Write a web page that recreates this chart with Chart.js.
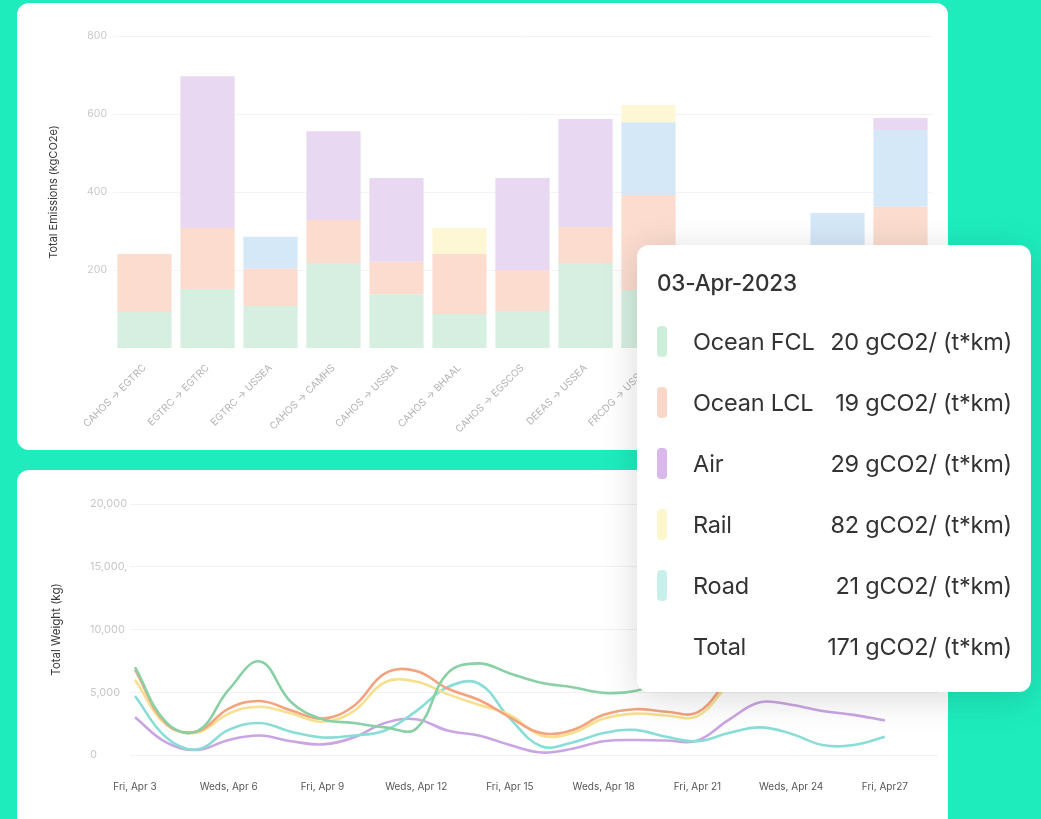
<!DOCTYPE html>
<html>
<head>
<meta charset="utf-8">
<script src="https://cdn.jsdelivr.net/npm/chart.js@4.4.1/dist/chart.umd.min.js"></script>
<style>
  html, body { margin: 0; padding: 0; }
  body { width: 1041px; height: 819px; background: #1eecbd; position: relative; overflow: hidden; font-family: Inter, "Noto Sans", sans-serif; }
  .card { position: absolute; background: #fff; border-radius: 12px; overflow: hidden; }
  #topCard { left: 17px; top: 3px; width: 931px; height: 447px; }
  #bottomCard { left: 17px; top: 470px; width: 931px; height: 370px; }
  .card canvas { display: block; }
  #tip { position: absolute; left: 637px; top: 245px; width: 394px; height: 447px; background: #fff; border-radius: 12px; box-shadow: 0 6px 36px rgba(0,0,0,0.15); color: #333; }
  #tip .title { position: absolute; left: 20px; top: 22px; font-size: 22.5px; font-weight: 500; line-height: 32px; letter-spacing: -0.2px; }
  #tip .row { position: absolute; left: 0; right: 0; height: 40px; line-height: 40px; font-size: 23.5px; letter-spacing: -0.2px; }
  #tip .sw { position: absolute; left: 20px; top: 4px; width: 10px; height: 31px; border-radius: 4px; }
  #tip .lab { position: absolute; left: 56px; }
  #tip .val { position: absolute; right: 19px; }
</style>
</head>
<body>
<div class="card" id="topCard"><canvas id="emissionsChart"></canvas></div>
<div class="card" id="bottomCard"><canvas id="weightChart"></canvas></div>
<div id="tip"></div>

<script>
// emissions per route (kgCO2e), stacked bottom -> top
var routes = ['CAHOS → EGTRC', 'EGTRC → EGTRC', 'EGTRC → USSEA', 'CAHOS → CAMHS', 'CAHOS → USSEA', 'CAHOS → BHAAL',
  'CAHOS → EGSCOS', 'DEEAS → USSEA', 'FRCDG → USSEA', 'CNSHA → USLAX', 'DEHAM → USNYC', 'NLRTM → USSEA', 'CAHOS → DEHAM'];
var oceanFcl = [92, 151, 108, 218, 138, 87, 95, 218, 149, 100, 120, 110, 150];
var oceanLcl = [149, 157, 95, 110, 83, 154, 105, 92, 243, 90, 60, 90, 212];
var road = [0, 0, 82, 0, 0, 0, 0, 0, 187, 0, 0, 146, 197];
var air = [0, 389, 0, 228, 215, 0, 236, 277, 0, 0, 0, 0, 31];
var rail = [0, 0, 0, 0, 0, 67, 0, 0, 44, 0, 0, 0, 0];
var emissionTicks = [200, 400, 600, 800];

// weight per day (kg), Apr 3 .. Apr 27
var days = [3, 4, 5, 6, 7, 8, 9, 10, 11, 12, 13, 14, 15, 16, 17, 18, 19, 20, 21, 22, 23, 24, 25, 26, 27];
var weightFcl = [7000, 2600, 1900, 5200, 7450, 4200, 2850, 2550, 2200, 2100, 6500, 7300, 6500, 5750, 5400, 4950, 5100, 6000, 7000, 7500, 7000, 6500, 6800, 7200, 7000];
var weightLcl = [6800, 2500, 1900, 3700, 4300, 3550, 2900, 3900, 6500, 6700, 5300, 4400, 3000, 1750, 2000, 3200, 3650, 3450, 3400, 6000, 8000, 9000, 8500, 8000, 8500];
var weightRail = [6000, 2400, 1800, 3300, 3850, 3300, 2650, 3500, 5800, 5850, 4850, 4000, 3200, 1550, 1750, 2900, 3300, 3150, 3100, 5600, 7500, 8500, 8000, 7500, 8000];
var weightRoad = [4700, 1400, 450, 2000, 2550, 1850, 1400, 1550, 1950, 3500, 5400, 5700, 2900, 700, 1000, 1750, 2000, 1450, 1100, 1750, 2200, 1700, 800, 800, 1450];
var weightAir = [3000, 1000, 400, 1200, 1550, 1100, 850, 1400, 2550, 2850, 1950, 1550, 800, 200, 500, 1100, 1200, 1150, 1150, 2800, 4200, 4000, 3500, 3200, 2750];
var dayTicks = [3, 6, 9, 12, 15, 18, 21, 24, 27];
var dayTickLabels = ['Fri, Apr 3', 'Weds, Apr 6', 'Fri, Apr 9', 'Weds, Apr 12', 'Fri, Apr 15', 'Weds, Apr 18', 'Fri, Apr 21', 'Weds, Apr 24', 'Fri, Apr27'];
var weightTicks = [0, 5000, 10000, 15000, 20000];
var weightTickLabels = ['0', '5,000', '10,000', '15,000,', '20,000'];

// tooltip card
var tipDate = '03-Apr-2023';
var tipModes = ['Ocean FCL', 'Ocean LCL', 'Air', 'Rail', 'Road', 'Total'];
var tipValues = [20, 19, 29, 82, 21, 171];
var tipColors = ['#cdeedb', '#f9d7c9', '#d9b8ec', '#fbf6cc', '#c8f0ea', null];
var tipUnit = 'gCO2/ (t*km)';

Chart.defaults.font.family = 'Inter, "Noto Sans", sans-serif';
Chart.defaults.animation = false;

// emissions chart
var ctx = document.getElementById('emissionsChart').getContext('2d');
var emissionsChart = new Chart(ctx, {
  type: 'bar',
  data: {
    labels: routes,
    datasets: [
      { label: 'Ocean FCL', data: oceanFcl, backgroundColor: '#d6efe1' },
      { label: 'Ocean LCL', data: oceanLcl, backgroundColor: '#fbdccf' },
      { label: 'Road', data: road, backgroundColor: '#d5e8f8' },
      { label: 'Air', data: air, backgroundColor: '#e8d8f1' },
      { label: 'Rail', data: rail, backgroundColor: '#fdf7d5' }
    ]
  },
  options: {
    responsive: true,
    maintainAspectRatio: false,
    layout: { padding: { left: 26, right: 16, top: 33, bottom: 10 } },
    plugins: {
      legend: { display: false },
      tooltip: { enabled: false }
    },
    datasets: {
      bar: { categoryPercentage: 0.86, barPercentage: 1, borderWidth: 0 }
    },
    scales: {
      x: {
        stacked: true,
        grid: { display: false },
        border: { display: false },
        ticks: {
          autoSkip: false,
          maxRotation: 45,
          minRotation: 45,
          padding: 6,
          color: '#b3b3b3',
          font: { size: 10 }
        },
        afterFit: function (scale) { scale.height = 92; }
      },
      y: {
        stacked: true,
        min: 0,
        max: 800,
        grid: { color: '#f3f3f3', drawTicks: false },
        border: { display: false },
        ticks: { padding: 6, color: '#c8c8c8', font: { size: 10.5 } },
        afterBuildTicks: function (scale) {
          scale.ticks = emissionTicks.map(function (v) { return { value: v }; });
        },
        afterFit: function (scale) { scale.width = 70; },
        title: {
          display: true,
          text: 'Total Emissions (kgCO2e)',
          color: '#3a3a3a',
          font: { size: 11 }
        }
      }
    }
  }
});

// weight chart
function points(values) {
  return values.map(function (v, i) { return { x: days[i], y: v }; });
}
var lineStyle = { borderWidth: 2.6, pointRadius: 0, tension: 0.4, fill: false };
var ctx2 = document.getElementById('weightChart').getContext('2d');
var weightChart = new Chart(ctx2, {
  type: 'line',
  data: {
    datasets: [
      Object.assign({ label: 'Ocean FCL', data: points(weightFcl), borderColor: '#8ad0a5' }, lineStyle),
      Object.assign({ label: 'Ocean LCL', data: points(weightLcl), borderColor: '#f3a37f' }, lineStyle),
      Object.assign({ label: 'Rail', data: points(weightRail), borderColor: '#f6e08f' }, lineStyle),
      Object.assign({ label: 'Road', data: points(weightRoad), borderColor: '#88ddd6' }, lineStyle),
      Object.assign({ label: 'Air', data: points(weightAir), borderColor: '#caa5e3' }, lineStyle)
    ]
  },
  options: {
    responsive: true,
    maintainAspectRatio: false,
    layout: { padding: { left: 73, right: 10, top: 34, bottom: 10 } },
    plugins: {
      legend: { display: false },
      tooltip: { enabled: false }
    },
    scales: {
      x: {
        type: 'linear',
        min: 2.84,
        max: 28.7,
        grid: { display: false },
        border: { display: false },
        ticks: {
          padding: 18,
          color: '#555',
          font: { size: 10 },
          callback: function (v) {
            var i = dayTicks.indexOf(v);
            return i < 0 ? '' : dayTickLabels[i];
          }
        },
        afterBuildTicks: function (scale) {
          scale.ticks = dayTicks.map(function (v) { return { value: v }; });
        },
        afterFit: function (scale) { scale.height = 75; }
      },
      y: {
        min: 0,
        max: 20000,
        grid: { color: '#f2f2f2', drawTicks: false },
        border: { display: false },
        ticks: {
          crossAlign: 'far',
          color: '#c8c8c8',
          font: { size: 11 },
          callback: function (v) {
            var i = weightTicks.indexOf(v);
            return i < 0 ? '' : weightTickLabels[i];
          }
        },
        afterBuildTicks: function (scale) {
          scale.ticks = weightTicks.map(function (v) { return { value: v }; });
        },
        afterFit: function (scale) { scale.width = 40; },
        title: {
          display: true,
          text: 'Total Weight (kg)',
          color: '#3a3a3a',
          font: { size: 11.5 },
          padding: { top: -39.9, bottom: 0 }
        }
      }
    }
  }
});

// tooltip card
var tip = document.getElementById('tip');
var html = '<div class="title">' + tipDate + '</div>';
tipModes.forEach(function (m, i) {
  var top = 97 + i * 61 - 20;
  html += '<div class="row" style="top:' + top + 'px">' +
    (tipColors[i] ? '<div class="sw" style="background:' + tipColors[i] + '"></div>' : '') +
    '<span class="lab">' + m + '</span>' +
    '<span class="val">' + tipValues[i] + ' ' + tipUnit + '</span></div>';
});
tip.innerHTML = html;
</script>
</body>
</html>
